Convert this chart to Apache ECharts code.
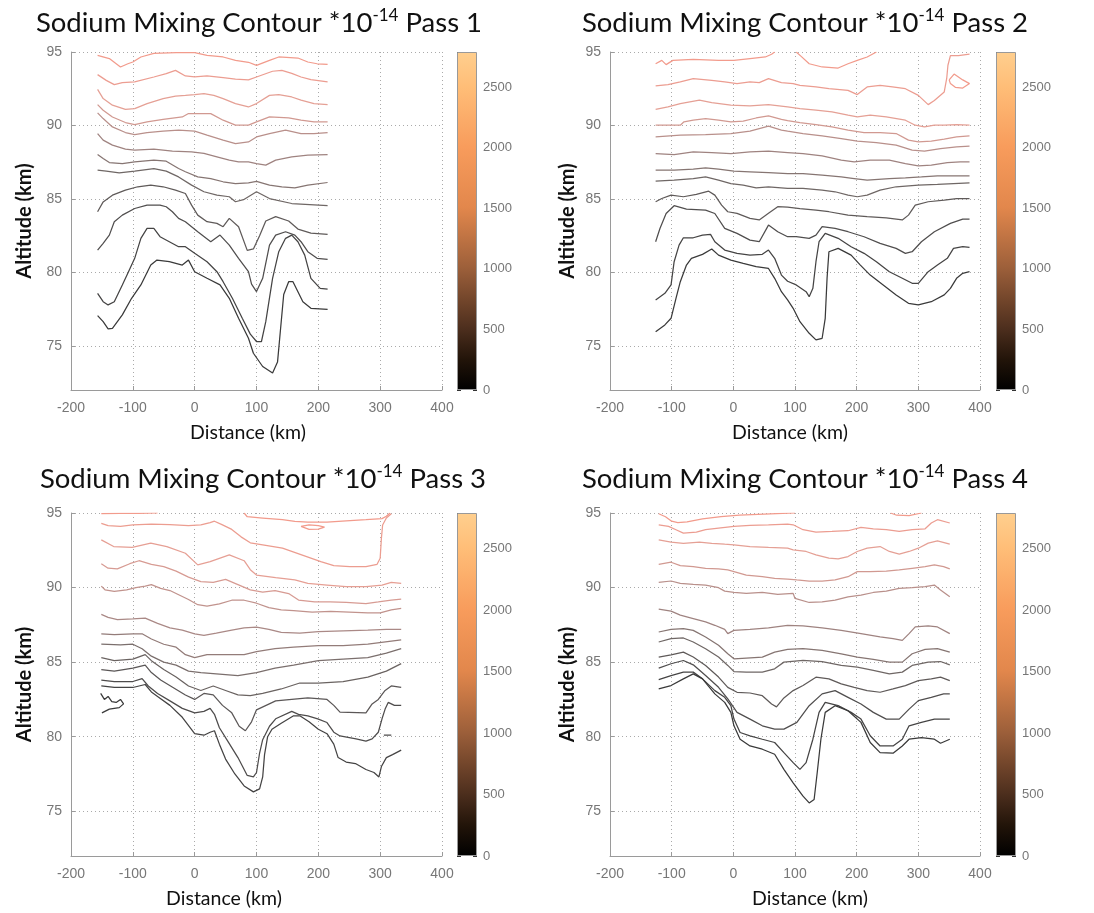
<!DOCTYPE html>
<html><head><meta charset="utf-8">
<script src="https://cdn.jsdelivr.net/npm/echarts@6/dist/echarts.min.js"></script>
<style>html,body{margin:0;padding:0;background:#fff}#c{width:1094px;height:913px}</style>
</head><body><div id="c"></div>
<script>
// ---------- tick labels ----------
const xTicks = [-200, -100, 0, 100, 200, 300, 400];
const yTicks = [75, 80, 85, 90, 95];
const cbTicks = [0, 500, 1000, 1500, 2000, 2500];
const passNames = ['Pass 1', 'Pass 2', 'Pass 3', 'Pass 4'];
const cbMax = 2790;

// ---------- contour lines (distance km, altitude km); null = break ----------
const pass1 = [
 [[-157,94.77],[-138,94.55],[-120,93.98],[-108,94.2],[-100,94.32],[-87,94.66],[-66,94.9],[-30,94.95],[0,94.95],[20,94.77],[46,94.66],[66,94.43],[87,94.3],[100,94.09],[121,94.43],[136,94.66],[167,94.59],[183,94.32],[198,94.2],[215,94.16]],
 [[-157,93.46],[-143,93.07],[-130,92.78],[-117,92.92],[-97,92.96],[-66,93.3],[-46,93.53],[-31,93.75],[-15,93.37],[0,93.3],[20,93.37],[46,93.25],[66,93.15],[87,93.1],[100,93.3],[126,93.69],[141,93.75],[157,93.55],[172,93.3],[188,93.12],[215,92.96]],
 [[-157,92.46],[-148,91.83],[-133,91.38],[-112,91.1],[-97,91.15],[-77,91.49],[-51,91.83],[-31,92.0],[-15,92.05],[0,92.1],[15,92.17],[31,92.05],[46,91.83],[66,91.49],[87,91.26],[100,91.49],[121,92.05],[136,92.1],[157,91.94],[172,91.72],[193,91.49],[215,91.42]],
 [[-157,91.42],[-148,91.04],[-133,90.58],[-112,90.2],[-97,90.06],[-77,90.24],[-51,90.42],[-20,90.58],[-10,90.81],[10,90.81],[26,90.81],[46,90.36],[66,90.02],[87,90.02],[100,90.24],[121,90.58],[152,90.51],[172,90.36],[193,90.24],[215,90.24]],
 [[-157,90.86],[-148,90.47],[-133,89.9],[-112,89.52],[-97,89.38],[-77,89.52],[-51,89.61],[-26,89.68],[0,89.61],[20,89.34],[46,89.0],[66,88.77],[87,88.88],[100,89.22],[121,89.45],[147,89.68],[172,89.45],[193,89.45],[215,89.52]],
 [[-157,89.45],[-148,89.0],[-133,88.66],[-112,88.39],[-97,88.32],[-66,88.39],[-36,88.25],[-5,88.2],[15,88.1],[36,87.87],[56,87.64],[71,87.53],[87,87.53],[100,87.41],[115,87.3],[131,87.64],[157,87.87],[183,87.98],[215,88.02]],
 [[-157,88.02],[-148,87.75],[-138,87.48],[-117,87.41],[-97,87.53],[-66,87.64],[-46,87.57],[-26,87.07],[-15,86.85],[5,86.5],[26,86.39],[46,86.17],[66,86.05],[87,86.1],[100,86.2],[121,85.94],[141,85.83],[162,85.76],[183,85.94],[215,86.12]],
 [[-157,86.96],[-143,86.89],[-122,86.78],[-97,86.89],[-66,87.07],[-46,86.89],[-26,86.5],[-5,85.94],[15,85.49],[36,85.26],[56,85.15],[66,84.81],[79,84.95],[100,85.49],[121,85.03],[157,84.69],[215,84.54]],
 [[-157,84.13],[-148,84.8],[-133,85.26],[-112,85.6],[-92,85.83],[-71,85.94],[-51,85.83],[-31,85.6],[-15,85.37],[-5,84.58],[5,83.9],[20,83.45],[36,83.34],[46,83.11],[56,83.68],[71,83.11],[85,81.5],[95,81.6],[105,82.5],[115,83.5],[131,83.8],[152,83.5],[167,82.95],[188,82.68],[215,82.59]],
 [[-157,81.52],[-148,81.98],[-138,82.54],[-130,83.45],[-117,83.9],[-97,84.35],[-77,84.58],[-56,84.58],[-46,84.47],[-36,84.13],[-26,83.68],[-15,83.45],[5,82.77],[26,82.09],[41,82.54],[56,81.86],[71,80.96],[87,80.05],[92,79.2],[100,78.7],[110,79.6],[121,81.86],[131,82.54],[147,82.77],[162,82.54],[172,82.09],[183,81.41],[198,80.96],[215,80.89]],
 [[-157,78.58],[-148,78.01],[-140,77.79],[-130,78.01],[-117,79.15],[-107,80.05],[-97,80.96],[-87,82.32],[-77,83.0],[-66,83.0],[-56,82.43],[-41,82.09],[-26,81.75],[-15,81.75],[0,81.3],[20,80.73],[36,80.05],[46,79.37],[61,78.24],[77,76.88],[90,75.8],[100,75.3],[108,75.3],[115,76.65],[126,79.6],[136,81.41],[147,82.32],[157,82.54],[167,82.09],[178,81.18],[188,79.6],[203,78.92],[215,78.87]],
 [[-157,77.06],[-148,76.65],[-140,76.16],[-133,76.2],[-117,77.11],[-102,78.24],[-87,79.15],[-71,80.5],[-61,80.84],[-41,80.73],[-20,80.5],[-10,80.84],[0,80.05],[20,79.6],[41,79.15],[56,78.24],[71,76.88],[87,75.52],[95,74.5],[110,73.6],[126,73.15],[134,73.9],[139,76.2],[144,78.5],[152,79.37],[159,79.37],[167,78.69],[175,78.0],[188,77.56],[215,77.49]]
];

const pass2 = [
 [[-126,94.2],[-116,94.43],[-109,94.14],[-98,94.43],[-65,94.5],[-24,94.43],[1,94.43],[27,94.55],[52,94.66],[62,94.85],[67,95.0],null,[102,95.0],[110,94.7],[123,94.2],[144,93.98],[170,93.91],[186,94.2],[201,94.43],[217,94.66],[232,95.0],null,[350,93.1],[358,93.5],[372,93.1],[383,92.85],[372,92.55],[360,92.6],[352,92.85],[350,93.1]],
 [[-126,92.69],[-106,92.78],[-86,92.96],[-65,93.19],[-35,93.07],[-14,92.96],[6,92.85],[27,92.96],[42,92.92],[57,93.19],[78,92.92],[97,92.85],[108,92.73],[134,92.62],[155,92.5],[186,92.39],[201,92.1],[217,92.62],[238,92.73],[258,92.62],[279,92.5],[300,92.05],[316,91.42],[326,91.7],[342,92.28],[346,93.2],[348,94.1],[352,94.75],[365,94.75],[383,94.85]],
 [[-126,91.1],[-106,91.26],[-86,91.49],[-55,91.72],[-35,91.56],[-4,91.38],[27,91.33],[57,91.42],[88,91.26],[108,91.15],[134,91.04],[160,90.92],[186,90.7],[201,90.58],[222,90.7],[248,90.58],[279,90.36],[295,90.02],[310,89.9],[326,90.02],[342,90.02],[362,90.06],[383,90.02]],
 [[-126,90.02],[-86,90.02],[-80,90.25],[-65,90.36],[-45,90.47],[-24,90.36],[-4,90.24],[16,90.29],[37,90.51],[57,90.65],[78,90.42],[88,90.33],[108,90.2],[134,90.06],[160,89.9],[186,89.68],[212,89.52],[238,89.52],[264,89.45],[284,89.0],[300,88.88],[321,88.93],[342,89.07],[362,89.22],[383,89.29]],
 [[-126,89.22],[-86,89.34],[-45,89.38],[-4,89.45],[27,89.61],[57,89.95],[78,89.68],[88,89.61],[113,89.45],[144,89.29],[175,89.11],[201,88.93],[232,88.84],[264,88.66],[290,88.32],[310,88.25],[336,88.43],[362,88.54],[383,88.59]],
 [[-126,88.09],[-96,88.02],[-65,88.2],[-35,88.16],[-4,88.09],[27,88.2],[57,88.25],[88,88.16],[113,88.09],[144,87.93],[175,87.64],[196,87.53],[222,87.64],[253,87.64],[279,87.41],[300,87.25],[321,87.3],[347,87.48],[368,87.53],[383,87.53]],
 [[-126,86.96],[-96,86.96],[-65,87.03],[-45,87.12],[-24,87.03],[1,86.89],[27,86.85],[57,86.8],[88,86.73],[113,86.73],[144,86.62],[175,86.5],[196,86.39],[217,86.28],[253,86.39],[279,86.44],[305,86.5],[331,86.57],[357,86.57],[383,86.57]],
 [[-126,86.21],[-96,86.28],[-65,86.39],[-45,86.5],[-24,86.28],[-4,86.05],[16,85.94],[37,85.76],[57,85.83],[88,85.72],[113,85.72],[144,85.6],[165,85.49],[186,85.26],[201,85.15],[217,85.26],[238,85.6],[264,85.83],[300,85.94],[331,85.99],[357,86.05],[383,86.1]],
 [[-126,84.81],[-116,85.03],[-101,85.26],[-81,85.15],[-60,85.31],[-40,85.53],[-30,85.26],[-19,84.58],[-9,84.13],[6,84.02],[27,83.68],[42,83.57],[57,84.02],[72,84.47],[88,84.45],[108,84.35],[134,84.24],[155,84.13],[186,83.9],[217,83.79],[248,83.72],[274,83.57],[284,83.9],[295,84.58],[316,84.81],[342,84.92],[362,85.03],[383,85.03]],
 [[-126,82.09],[-119,82.99],[-109,84.01],[-96,84.54],[-76,84.31],[-45,84.24],[-30,84.01],[-14,83.0],[6,82.66],[27,82.2],[42,82.09],[57,83.22],[72,82.77],[88,82.43],[102,82.43],[123,82.32],[134,82.54],[144,83.11],[165,83.0],[186,82.77],[212,82.43],[238,81.98],[264,81.64],[279,81.3],[290,81.41],[305,82.09],[326,82.77],[352,83.34],[372,83.63],[383,83.63]],
 [[-126,78.13],[-111,78.58],[-101,79.15],[-96,80.73],[-88,81.86],[-81,82.36],[-65,82.36],[-50,82.54],[-37,82.59],[-30,82.09],[-14,81.52],[6,81.3],[27,81.18],[47,81.23],[57,81.52],[67,80.96],[78,79.82],[88,79.4],[102,79.15],[118,78.69],[123,78.35],[129,78.92],[134,80.73],[139,82.09],[149,82.66],[170,82.32],[191,81.75],[212,81.3],[232,80.73],[253,80.05],[274,79.6],[290,79.26],[300,79.26],[316,80.05],[331,80.5],[347,80.96],[357,81.64],[372,81.75],[383,81.7]],
 [[-126,75.97],[-111,76.43],[-101,76.88],[-93,78.24],[-86,79.37],[-76,80.5],[-68,80.96],[-50,81.23],[-35,81.59],[-24,81.18],[-4,80.84],[16,80.61],[37,80.39],[57,80.27],[67,79.6],[78,78.69],[88,78.13],[97,77.56],[108,76.65],[123,75.86],[134,75.41],[144,75.52],[149,76.88],[152,79.6],[155,81.41],[170,81.64],[191,81.18],[206,80.5],[222,79.82],[243,79.15],[264,78.47],[284,77.9],[300,77.79],[321,78.01],[342,78.47],[352,78.92],[362,79.6],[372,79.94],[383,80.05]]
];

const pass3 = [
 [[-151,94.95],[-120,94.98],[-90,94.97],[-60,95.0],null,[80,95.0],[85,94.75],[110,94.66],[142,94.55],[162,94.44],[183,94.39],[214,94.39],[245,94.48],[277,94.55],[303,94.62],[310,94.78],[316,95.0],null,[172,94.1],[185,94.2],[200,94.15],[210,94.05],[200,93.92],[185,93.9],[172,94.1]],
 [[-151,94.3],[-140,94.15],[-120,94.1],[-100,94.2],[-70,94.25],[-40,94.22],[-10,94.15],[10,94.2],[25,94.35],[32,94.45],[45,94.2],[60,93.9],[75,93.4],[90,93.0],[110,92.87],[142,92.64],[173,92.19],[204,91.74],[225,91.47],[251,91.4],[277,91.4],[295,91.56],[300,91.97],[302,93.3],[304,94.2],[310,94.66],[318,94.95]],
 [[-151,93.2],[-131,92.75],[-101,92.69],[-71,92.98],[-45,92.75],[-15,92.3],[5,91.52],[25,91.74],[56,92.19],[80,91.8],[90,91.2],[100,90.84],[131,90.66],[162,90.51],[183,90.28],[214,90.17],[245,90.06],[277,90.06],[303,90.17],[318,90.35],[334,90.28]],
 [[-151,91.6],[-140,91.3],[-125,91.25],[-105,91.6],[-90,91.8],[-70,91.55],[-50,91.4],[-30,91.1],[-10,90.7],[10,90.4],[30,90.35],[50,90.55],[70,90.2],[90,89.85],[110,89.7],[130,89.8],[152,89.6],[168,89.16],[194,89.04],[219,89.04],[245,89.0],[277,88.93],[297,89.04],[318,89.16],[334,89.22]],
 [[-151,90.1],[-145,89.85],[-130,89.75],[-110,89.85],[-95,90.0],[-80,90.1],[-70,90.2],[-55,89.95],[-40,89.8],[-25,89.5],[-10,89.2],[5,88.85],[20,88.75],[40,88.9],[60,89.15],[80,89.15],[100,88.95],[120,88.65],[140,88.5],[160,88.45],[190,88.35],[220,88.4],[250,88.35],[280,88.3],[300,88.3],[318,88.5],[334,88.6]],
 [[-151,88.2],[-140,88.0],[-125,87.85],[-100,87.9],[-80,87.95],[-60,87.6],[-40,87.3],[-20,87.15],[0,86.9],[15,86.8],[35,86.95],[60,87.15],[80,87.3],[100,87.35],[120,87.2],[140,87.0],[170,86.95],[200,87.05],[240,87.1],[280,87.15],[310,87.2],[334,87.2]],
 [[-151,86.9],[-130,86.85],[-100,86.9],[-85,86.9],[-70,86.55],[-50,86.2],[-30,86.0],[-15,85.5],[0,85.3],[20,85.5],[50,85.5],[80,85.5],[100,85.7],[130,85.9],[160,86.0],[200,86.1],[240,86.1],[280,86.2],[334,86.5]],
 [[-151,86.2],[-120,86.15],[-100,86.2],[-85,85.9],[-70,85.4],[-50,85.0],[-30,84.8],[-10,84.4],[10,84.3],[40,84.2],[70,84.1],[100,84.3],[130,84.6],[160,84.8],[200,85.1],[240,85.2],[280,85.3],[310,85.6],[334,85.9]],
 [[-151,85.3],[-130,85.1],[-100,85.2],[-80,85.5],[-70,85.1],[-50,84.5],[-30,84.0],[-10,83.4],[10,83.1],[30,83.4],[50,83.1],[70,82.8],[90,82.75],[110,82.9],[140,83.2],[170,83.6],[200,83.6],[240,83.7],[280,84.0],[310,84.4],[334,84.9]],
 [[-151,84.5],[-130,84.4],[-100,84.6],[-80,84.8],[-70,84.3],[-55,83.8],[-35,83.3],[-15,82.8],[0,82.5],[15,82.9],[30,82.8],[45,82.1],[60,81.6],[72,80.7],[82,80.4],[92,81.0],[100,81.8],[131,82.4],[183,82.6],[214,82.5],[225,82.1],[235,81.65],[277,81.6],[287,82.2],[297,82.5],[308,83.1],[318,83.4],[334,83.3]],
 [[-151,83.8],[-130,83.7],[-100,83.7],[-85,83.9],[-75,83.4],[-60,82.9],[-40,82.4],[-20,81.9],[0,81.6],[15,81.7],[25,81.9],[32,81.5],[40,80.6],[55,79.6],[70,78.6],[85,77.4],[95,77.3],[100,77.6],[105,78.9],[110,79.8],[121,80.7],[131,81.2],[157,81.7],[168,81.5],[183,81.4],[199,81.2],[214,80.95],[225,80.3],[235,80.05],[261,79.85],[277,79.7],[287,79.85],[297,80.3],[303,81.2],[308,81.85],[313,82.3],[323,82.1],[334,82.1],null,[306,80.1],[318,80.1]],
 [[-151,83.4],[-130,83.3],[-100,83.3],[-80,83.5],[-70,83.0],[-60,82.7],[-40,82.1],[-20,81.3],[0,80.2],[15,80.1],[25,80.3],[32,80.4],[40,79.5],[50,78.5],[65,77.5],[80,76.7],[95,76.3],[105,76.5],[110,77.3],[113,78.8],[118,80.0],[125,80.5],[140,80.9],[160,81.4],[170,81.4],[185,81.0],[200,80.5],[214,80.2],[225,79.5],[232,78.6],[245,78.3],[260,78.2],[277,77.8],[290,77.6],[298,77.3],[302,78.0],[310,78.6],[320,78.8],[334,79.1]],
 [[-152,82.9],[-146,82.5],[-140,82.7],[-134,82.35],[-127,82.3],[-120,82.5],[-115,82.2],[-122,81.95],[-138,81.85],[-150,81.6]]
];

const pass4 = [
 [[-121,94.95],[-110,94.75],[-100,94.45],[-90,94.35],[-75,94.4],[-50,94.6],[-20,94.75],[10,94.85],[40,94.9],[70,94.95],[100,95.0],null,[255,95.0],[265,94.85],[285,94.82],[305,95.0]],
 [[-121,94.21],[-105,94.1],[-93,93.88],[-81,93.65],[-60,93.72],[-45,93.88],[-24,93.99],[1,94.1],[27,94.17],[57,94.21],[88,94.26],[97,94.21],[113,93.88],[134,93.72],[160,93.76],[186,93.81],[207,94.03],[227,93.94],[248,93.88],[269,93.76],[290,93.88],[311,93.94],[321,94.33],[331,94.55],[351,94.33]],
 [[-121,93.2],[-101,93.04],[-81,92.97],[-55,93.04],[-35,92.97],[-14,92.91],[1,92.87],[27,92.75],[57,92.69],[88,92.64],[97,92.53],[118,92.42],[134,92.19],[155,91.97],[170,91.92],[186,92.08],[201,92.42],[217,92.64],[238,92.75],[253,92.42],[269,92.24],[285,92.42],[300,92.64],[316,92.98],[331,93.13],[351,92.91]],
 [[-121,91.56],[-101,91.7],[-86,91.47],[-65,91.4],[-45,91.29],[-24,91.25],[-9,91.18],[1,91.07],[21,90.84],[47,90.73],[67,90.62],[88,90.57],[103,90.51],[123,90.44],[144,90.44],[165,90.51],[186,90.73],[201,91.07],[222,91.07],[248,91.11],[269,91.18],[290,91.29],[311,91.4],[326,91.52],[341,91.4],[351,91.25]],
 [[-121,90.35],[-101,90.44],[-86,90.28],[-65,90.21],[-45,90.17],[-24,89.99],[-14,89.76],[1,89.67],[21,89.61],[47,89.67],[72,89.54],[97,89.61],[100,89.27],[123,89.0],[144,89.04],[165,89.16],[186,89.38],[207,89.49],[227,89.67],[248,89.76],[269,89.94],[290,89.99],[311,90.06],[326,90.17],[336,89.83],[351,89.38]],
 [[-121,88.55],[-101,88.42],[-86,88.15],[-65,87.92],[-45,87.7],[-30,87.47],[-14,87.2],[-9,86.91],[1,87.13],[27,87.2],[57,87.29],[88,87.47],[113,87.43],[144,87.29],[175,87.13],[207,86.91],[238,86.69],[259,86.57],[274,86.46],[285,86.91],[295,87.36],[316,87.43],[331,87.36],[351,86.91]],
 [[-121,87.02],[-101,87.2],[-81,87.25],[-65,87.13],[-45,86.69],[-24,86.13],[-9,85.56],[1,85.22],[21,85.27],[47,85.34],[67,85.67],[88,85.85],[113,85.9],[144,85.79],[175,85.56],[201,85.34],[227,85.18],[253,85.0],[274,85.0],[290,85.56],[311,85.85],[331,85.9],[351,85.67]],
 [[-121,86.35],[-101,86.57],[-81,86.62],[-65,86.35],[-45,85.9],[-24,85.34],[-9,84.78],[1,84.37],[21,84.33],[47,84.33],[67,84.55],[82,85.0],[113,85.11],[144,85.04],[175,84.78],[201,84.66],[227,84.44],[253,84.21],[274,84.33],[290,84.78],[316,85.0],[336,85.04],[351,84.82]],
 [[-121,85.34],[-101,85.49],[-81,85.67],[-65,85.34],[-45,84.78],[-24,84.0],[-9,83.31],[6,82.98],[27,82.93],[47,82.75],[62,82.19],[70,82.0],[82,82.6],[97,83.09],[113,83.43],[134,83.99],[155,83.88],[175,83.54],[196,83.31],[217,83.09],[238,82.98],[259,83.2],[279,83.43],[300,83.76],[321,83.88],[336,83.99],[351,83.76]],
 [[-121,84.6],[-101,84.89],[-81,85.11],[-65,84.82],[-45,84.1],[-24,83.31],[-9,82.53],[6,81.63],[27,81.18],[47,80.73],[67,80.51],[82,80.51],[103,80.96],[123,82.08],[144,82.87],[165,83.09],[186,82.64],[207,82.19],[227,81.63],[248,81.18],[269,81.18],[285,81.85],[300,82.42],[321,82.64],[341,82.87],[351,82.87]],
 [[-121,83.83],[-101,84.1],[-81,84.33],[-65,84.33],[-50,83.88],[-30,83.09],[-14,82.64],[-4,82.08],[1,81.18],[11,80.28],[27,80.06],[47,79.83],[67,79.61],[82,78.93],[97,78.26],[108,77.81],[118,78.26],[129,79.83],[139,81.63],[149,82.3],[170,82.08],[191,81.63],[207,81.18],[222,80.06],[238,79.38],[259,79.38],[274,79.83],[285,80.73],[305,80.96],[326,81.18],[351,81.18]],
 [[-121,83.2],[-101,83.43],[-81,83.88],[-65,84.21],[-50,83.88],[-30,82.87],[-14,82.3],[-4,81.63],[1,80.73],[11,79.83],[27,79.38],[47,79.16],[67,78.82],[82,77.81],[97,76.91],[113,76.01],[123,75.56],[131,75.79],[136,77.58],[142,79.83],[149,81.63],[165,82.08],[186,81.74],[207,80.96],[222,79.61],[238,78.93],[259,78.89],[274,79.38],[285,79.83],[305,79.94],[326,79.83],[336,79.56],[351,79.83]]
];

const passes = [pass1, pass2, pass3, pass4];

// ---------- layout (pixels) ----------
const layout = [
  {l: 71,  t: 52,  w: 371, h: 338, cb: 457, tx: 259, ty: 23,  yx: 25,  xx: 248, xy: 433},
  {l: 610, t: 52,  w: 370, h: 338, cb: 996, tx: 805, ty: 23,  yx: 568, xx: 790, xy: 433},
  {l: 71,  t: 513, w: 371, h: 343, cb: 457, tx: 263, ty: 479, yx: 25,  xx: 224, xy: 899},
  {l: 610, t: 513, w: 370, h: 343, cb: 996, tx: 805, ty: 479, yx: 568, xx: 810, xy: 899}
];

// contour line colour ramp (top -> bottom)
const rampStops = [[0,[242,155,140]],[0.2,[228,160,150]],[0.4,[175,140,136]],[0.6,[118,108,106]],[0.8,[82,80,80]],[1,[58,58,58]]];
function rampColor(t) {
  for (let i = 1; i < rampStops.length; i++) {
    const [t1, c1] = rampStops[i], [t0, c0] = rampStops[i-1];
    if (t <= t1) {
      const f = (t - t0) / (t1 - t0);
      const c = c0.map((v, k) => Math.round(v + (c1[k] - v) * f));
      return 'rgb(' + c.join(',') + ')';
    }
  }
  return 'rgb(58,58,58)';
}
// colour bar (copper-like, as rendered in the figure)
const cbStops = [
  {offset: 0, color: '#000000'}, {offset: 0.09, color: '#221409'}, {offset: 0.18, color: '#4c2e1d'},
  {offset: 0.36, color: '#9c5f3a'}, {offset: 0.54, color: '#e2874c'}, {offset: 0.72, color: '#f89c5c'},
  {offset: 0.9, color: '#ffbe78'}, {offset: 1, color: '#ffcf8e'}
];

const tickFont = 'Liberation Sans';
const grids = [], xAxes = [], yAxes = [], series = [], graphics = [];

layout.forEach((L, p) => {
  grids.push({left: L.l, top: L.t, width: L.w, height: L.h});
  xAxes.push({
    gridIndex: p, type: 'value', min: xTicks[0], max: xTicks[xTicks.length-1], interval: 100,
    axisLine: {show: true, onZero: false, lineStyle: {color: '#9a9a9a'}},
    axisTick: {show: true, inside: true, length: 4, lineStyle: {color: '#9a9a9a'}},
    axisLabel: {color: '#777', fontSize: 14, fontFamily: tickFont, margin: 11},
    splitLine: {show: true, lineStyle: {type: [1, 3], color: '#aaa', width: 1}}
  });
  yAxes.push({
    gridIndex: p, type: 'value', min: 72, max: yTicks[yTicks.length-1],
    axisLine: {show: true, onZero: false, lineStyle: {color: '#9a9a9a'}},
    axisTick: {show: true, inside: true, length: 4, lineStyle: {color: '#9a9a9a'}},
    axisLabel: {color: '#777', fontSize: 14, fontFamily: tickFont, margin: 9, showMinLabel: false},
    splitLine: {show: true, lineStyle: {type: [1, 3], color: '#aaa', width: 1}}
  });
});
layout.forEach((L, p) => {
  grids.push({left: L.cb, top: L.t, width: 20, height: L.h});
  xAxes.push({gridIndex: 4 + p, type: 'category', data: [''], show: false});
});
layout.forEach((L, p) => {
  yAxes.push({
    gridIndex: 4 + p, type: 'value', min: cbTicks[0], max: cbMax, position: 'right',
    axisLine: {show: false},
    axisTick: {show: true, inside: true, length: 4, lineStyle: {color: '#333'}},
    axisLabel: {color: '#777', fontSize: 13, fontFamily: tickFont, margin: 6, showMaxLabel: false,
                formatter: v => String(v)},
    splitLine: {show: false}
  });
});
layout.forEach((L, p) => {
  yAxes.push({
    gridIndex: 4 + p, type: 'value', min: cbTicks[0], max: cbMax, position: 'left',
    axisLine: {show: false},
    axisTick: {show: true, inside: true, length: 4, lineStyle: {color: '#333'}},
    axisLabel: {show: false}, splitLine: {show: false}
  });
});

passes.forEach((lines, p) => {
  const n = lines.length;
  lines.forEach((pts, i) => {
    series.push({
      type: 'line', xAxisIndex: p, yAxisIndex: p, silent: true,
      showSymbol: false, symbol: 'none', connectNulls: false, z: 3,
      lineStyle: {width: 1.25, color: rampColor(n > 1 ? i / (n - 1) : 0)},
      data: pts.map(d => d === null ? '-' : d)
    });
  });
  series.push({
    type: 'bar', xAxisIndex: 4 + p, yAxisIndex: 4 + p, silent: true,
    barWidth: '100%', data: [cbMax], z: 1,
    itemStyle: {color: new echarts.graphic.LinearGradient(0, 1, 0, 0, cbStops), borderColor: '#999', borderWidth: 1}
  });
});

layout.forEach((L, p) => {
  graphics.push({
    type: 'text', x: L.tx, y: L.ty,
    style: {
      text: '{a|Sodium Mixing Contour *10}{s|-14}{a| ' + passNames[p] + '}',
      rich: {
        a: {fontSize: 27.5, fontFamily: 'Lato', fill: '#111', lineHeight: 32},
        s: {fontSize: 17, fontFamily: 'Lato', fill: '#111', verticalAlign: 'top', lineHeight: 18}
      },
      textAlign: 'center', textVerticalAlign: 'middle'
    }
  });
  graphics.push({
    type: 'text', x: L.yx, y: L.t + L.h / 2, rotation: Math.PI / 2,
    style: {text: 'Altitude (km)', font: 'bold 20px Lato', fill: '#111', textAlign: 'center', textVerticalAlign: 'middle'}
  });
  graphics.push({
    type: 'text', x: L.xx, y: L.xy,
    style: {text: 'Distance (km)', font: '19.5px Lato', fill: '#111', textAlign: 'center', textVerticalAlign: 'middle'}
  });
});

const chart = echarts.init(document.getElementById('c'));
chart.setOption({
  animation: false,
  backgroundColor: '#fff',
  grid: grids, xAxis: xAxes, yAxis: yAxes, series: series, graphic: graphics
});
</script>
</body></html>
